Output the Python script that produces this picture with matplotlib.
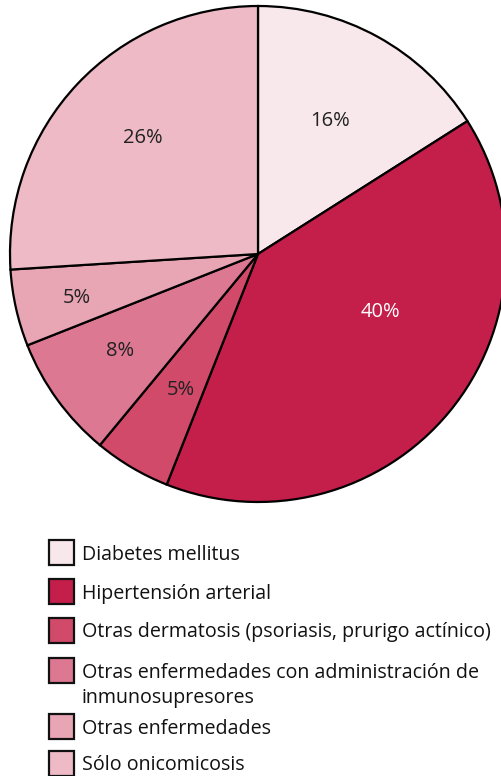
import matplotlib.pyplot as plt
from matplotlib.patches import Rectangle
import numpy as np

# datos del grafico
labels = ["Diabetes mellitus",
          "Hipertensión arterial",
          "Otras dermatosis (psoriasis, prurigo actínico)",
          "Otras enfermedades con administración de\ninmunosupresores",
          "Otras enfermedades",
          "Sólo onicomicosis"]
values = [16, 40, 5, 8, 5, 26]
colors = ["#F8E8EC", "#C41E4A", "#D14A6A", "#DC7891", "#E8A5B4", "#EDBAC6"]
pct_colors = ["#222222", "white", "#222222", "#222222", "#222222", "#222222"]

# posicion de las etiquetas (fraccion del radio, desplazamiento angular en grados)
lab_r = [0.61, 0.545, 0.63, 0.68, 0.75, 0.66]
lab_shift = [0.5, 14.2, 1, -1, 1, -2]

plt.rcParams['font.family'] = ['Open Sans', 'DejaVu Sans']

fig = plt.figure(figsize=(5.02, 7.76), dpi=100)
ax = fig.add_axes([10/502, 274/776, 496/502, 496/776])

wedges, _ = ax.pie(values, colors=colors, startangle=90, counterclock=False,
                   radius=1, wedgeprops=dict(edgecolor='black', linewidth=1.6))
ax.set_xlim(-1, 1)
ax.set_ylim(-1, 1)
ax.set_aspect('equal')
ax.axis('off')

ang = 90.0
for i, v in enumerate(values):
    span = v / sum(values) * 360
    mid = ang - span / 2 + lab_shift[i]
    ang -= span
    x = lab_r[i] * np.cos(np.radians(mid))
    y = lab_r[i] * np.sin(np.radians(mid))
    ax.text(x, y, f"{v}%", ha='center', va='center', fontsize=14.5,
            color=pct_colors[i])

# leyenda dibujada a mano
leg_y = [552, 591, 630, 670, 726, 763]
for i, lab in enumerate(labels):
    yc = leg_y[i]
    fig.patches.append(Rectangle((49/502, 1 - (yc + 12.5)/776), 25/502, 25/776,
                                 transform=fig.transFigure, facecolor=colors[i],
                                 edgecolor='#111111', linewidth=1.6))
    for j, line in enumerate(lab.split("\n")):
        fig.text(82/502, 1 - (yc + 7.5 + 26*j)/776, line, ha='left',
                 va='baseline', fontsize=14.1, color='#111111')

fig.savefig('out.png', dpi=100)
